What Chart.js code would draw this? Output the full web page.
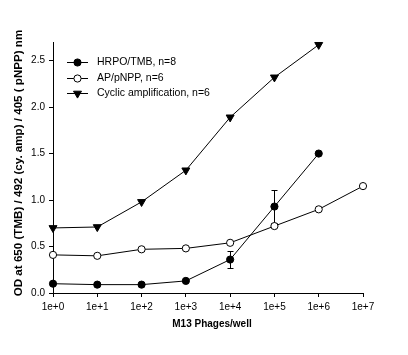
<!DOCTYPE html>
<html>
<head>
<meta charset="utf-8">
<script src="https://cdn.jsdelivr.net/npm/chart.js@4/dist/chart.umd.min.js"></script>
<style>
  html, body { margin: 0; padding: 0; background: #fff; }
  canvas { display: block; }
</style>
</head>
<body>
<canvas id="c" width="408" height="355"></canvas>
<script>
// Data (x = log10 of M13 phages per well)
const exponents = [0, 1, 2, 3, 4, 5, 6, 7];
const xTickLabels = ['1e+0', '1e+1', '1e+2', '1e+3', '1e+4', '1e+5', '1e+6', '1e+7'];
const yTicks = [0.0, 0.5, 1.0, 1.5, 2.0, 2.5];

const seriesNames = ['HRPO/TMB, n=8', 'AP/pNPP, n=6', 'Cyclic amplification, n=6'];

const hrpoX = [0, 1, 2, 3, 4, 5, 6];
const hrpoY = [0.10, 0.09, 0.09, 0.13, 0.36, 0.93, 1.50];
const hrpoErr = [0, 0, 0, 0, 0.09, 0.18, 0];

const apX = [0, 1, 2, 3, 4, 5, 6, 7];
const apY = [0.41, 0.40, 0.47, 0.48, 0.54, 0.72, 0.90, 1.15];

const cycX = [0, 1, 2, 3, 4, 5, 6];
const cycY = [0.70, 0.71, 0.98, 1.32, 1.89, 2.32, 2.67];

const xTitle = 'M13 Phages/well';
const yTitle = 'OD at 650 (TMB) / 492 (cy. amp) / 405 ( pNPP) nm';

const toPts = (xs, ys) => xs.map((x, i) => ({ x: x, y: ys[i] }));
const errors = [hrpoErr, null, null];

const errorBarPlugin = {
  id: 'errorBars',
  beforeDatasetsDraw(chart) {
    const ctx = chart.ctx;
    const xs = chart.scales.x, ys = chart.scales.y;
    ctx.save();
    ctx.strokeStyle = '#000';
    ctx.lineWidth = 1;
    chart.data.datasets.forEach((ds, di) => {
      const err = errors[di];
      if (!err) return;
      ds.data.forEach((p, i) => {
        const e = err[i];
        if (!e) return;
        const px = Math.round(xs.getPixelForValue(p.x)) + 0.5;
        const yTop = Math.round(ys.getPixelForValue(p.y + e)) + 0.5;
        const yBot = Math.round(ys.getPixelForValue(p.y - e)) + 0.5;
        ctx.beginPath();
        ctx.moveTo(px, yTop); ctx.lineTo(px, yBot);
        ctx.moveTo(px - 3, yTop); ctx.lineTo(px + 3, yTop);
        ctx.moveTo(px - 3, yBot); ctx.lineTo(px + 3, yBot);
        ctx.stroke();
      });
    });
    ctx.restore();
  }
};

const legendTitlePlugin = {
  id: 'legendTitles',
  afterDraw(chart) {
    const ctx = chart.ctx;
    const area = chart.chartArea;
    ctx.save();
    // legend
    const rowY = [62, 78, 93];
    chart.data.datasets.forEach((ds, i) => {
      const y = rowY[i] + 0.5;
      ctx.strokeStyle = '#000';
      ctx.lineWidth = 1;
      ctx.beginPath();
      ctx.moveTo(67, y); ctx.lineTo(88, y);
      ctx.stroke();
      ctx.fillStyle = ds.pointBackgroundColor;
      ctx.strokeStyle = '#000';
      ctx.lineWidth = 1;
      Chart.helpers.drawPoint(ctx, {
        pointStyle: ds.pointStyle,
        radius: ds.pointRadius,
        rotation: ds.pointRotation || 0,
        borderWidth: 1
      }, 77.5, y);
      ctx.fillStyle = '#000';
      ctx.font = '10.5px Arial, "Liberation Sans", sans-serif';
      ctx.textAlign = 'left';
      ctx.textBaseline = 'middle';
      ctx.fillText(ds.label, 97, y);
    });
    // axis titles
    ctx.fillStyle = '#000';
    ctx.font = 'bold 10px Arial, "Liberation Sans", sans-serif';
    ctx.textAlign = 'center';
    ctx.textBaseline = 'middle';
    ctx.fillText(xTitle, 212, 324);
    ctx.font = 'bold 11.6px Arial, "Liberation Sans", sans-serif';
    ctx.translate(18.5, 163);
    ctx.rotate(-Math.PI / 2);
    ctx.fillText(yTitle, 0, 0);
    ctx.restore();
  }
};

const tickFont = { family: 'Arial, "Liberation Sans", sans-serif', size: 10 };

new Chart(document.getElementById('c'), {
  type: 'line',
  data: {
    datasets: [
      {
        label: seriesNames[0],
        data: toPts(hrpoX, hrpoY),
        borderColor: '#000', borderWidth: 1, clip: false,
        pointStyle: 'circle', pointRadius: 3.6,
        pointBackgroundColor: '#000', pointBorderColor: '#000', pointBorderWidth: 1,
        fill: false, tension: 0
      },
      {
        label: seriesNames[1],
        data: toPts(apX, apY),
        borderColor: '#000', borderWidth: 1, clip: false,
        pointStyle: 'circle', pointRadius: 3.6,
        pointBackgroundColor: '#fff', pointBorderColor: '#000', pointBorderWidth: 1,
        fill: false, tension: 0
      },
      {
        label: seriesNames[2],
        data: toPts(cycX, cycY),
        borderColor: '#000', borderWidth: 1, clip: false,
        pointStyle: 'triangle', pointRadius: 4.6, pointRotation: 180,
        pointBackgroundColor: '#000', pointBorderColor: '#000', pointBorderWidth: 1,
        fill: false, tension: 0
      }
    ]
  },
  options: {
    responsive: false,
    animation: false,
    devicePixelRatio: 1,
    layout: { padding: { top: 42, right: 45, left: 0, bottom: 0 } },
    plugins: { legend: { display: false }, tooltip: { enabled: false } },
    scales: {
      x: {
        type: 'linear', min: 0, max: 7,
        grid: { drawOnChartArea: false, drawTicks: true, tickLength: 4, color: '#000' },
        border: { color: '#000', width: 1 },
        ticks: {
          stepSize: 1, color: '#000', font: tickFont, padding: 4, maxRotation: 0,
          callback: (v) => xTickLabels[exponents.indexOf(v)]
        },
        afterFit: (s) => { s.height = 62; }
      },
      y: {
        type: 'linear', min: 0, max: 2.7,
        grid: { drawOnChartArea: false, drawTicks: true, tickLength: 4, color: '#000' },
        border: { color: '#000', width: 1 },
        ticks: {
          color: '#000', font: tickFont, padding: 4,
          callback: (v) => v.toFixed(1)
        },
        afterBuildTicks: (s) => { s.ticks = yTicks.map(v => ({ value: v })); },
        afterFit: (s) => { s.width = 53; }
      }
    }
  },
  plugins: [errorBarPlugin, legendTitlePlugin]
});
</script>
</body>
</html>
